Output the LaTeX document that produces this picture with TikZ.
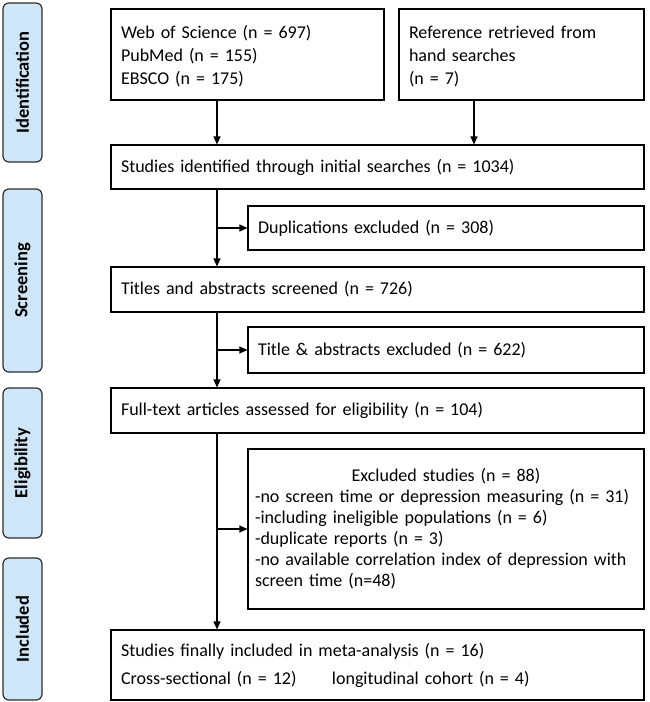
\documentclass[tikz,border=0pt]{standalone}
\usepackage{fontspec}
\setmainfont{Carlito}
\usetikzlibrary{arrows.meta}
\definecolor{phasefill}{RGB}{206,230,248}
\definecolor{phaseline}{RGB}{45,45,45}
\tikzset{
  box/.style={draw,line width=1.1pt,inner xsep=10pt,inner ysep=0pt,align=left,font=\fontsize{18}{23}\selectfont},
  phase/.style={draw=phaseline,fill=phasefill,line width=1.2pt,rounded corners=6pt,rotate=90,
    minimum height=39pt,inner sep=0pt,font=\fontsize{18.5}{20}\selectfont\bfseries},
  arr/.style={line width=1.1pt,-{Triangle[length=8pt,width=7pt]}}
}
\begin{document}
\begin{tikzpicture}[x=1pt,y=-1pt]
\useasboundingbox (0,0) rectangle (650,702);
\node [phase,minimum width=159pt] (ident) at (22.5,82.5) {Identification};
\node [phase,minimum width=183pt] (screen) at (22.5,280.5) {Screening};
\node [phase,minimum width=150pt] (elig) at (22.5,463) {Eligibility};
\node [phase,minimum width=142pt] (incl) at (22.5,629) {Included};
\node [box,minimum width=273pt,minimum height=91pt,text width=253pt] (db) at (247.5,54.5)
  {\rule{0pt}{17pt}Web of Science (n = 697)\\PubMed (n = 155)\\EBSCO (n = 175)};
\node [box,minimum width=245pt,minimum height=91pt,text width=225pt] (hand) at (521.5,54.5)
  {\rule{0pt}{17pt}Reference retrieved from\\hand searches\\(n = 7)};
\node [box,minimum width=533pt,minimum height=44pt,text width=513pt] (ident1) at (377.5,167)
  {Studies identified through initial searches (n = 1034)};
\node [box,minimum width=396pt,minimum height=44pt,text width=376pt] (dupl) at (446,228)
  {Duplications excluded (n = 308)};
\node [box,minimum width=533pt,minimum height=45pt,text width=513pt] (titles) at (377.5,289.5)
  {Titles and abstracts screened (n = 726)};
\node [box,minimum width=396pt,minimum height=46pt,text width=376pt] (titlex) at (446,350)
  {Title \& abstracts excluded (n = 622)};
\node [box,minimum width=533pt,minimum height=45pt,text width=513pt] (full) at (377.5,410.5)
  {Full-text articles assessed for eligibility (n = 104)};
\node [box,minimum width=396pt,minimum height=160pt,inner xsep=7pt,text width=382pt,
  font=\fontsize{18}{21}\selectfont] (excl) at (446,529)
  {\centering Excluded studies (n = 88)\par\raggedright
  -no screen time or depression measuring (n = 31)\\
  -including ineligible populations (n = 6)\\
  -duplicate reports (n = 3)\\
  -no available correlation index of depression with screen time (n=48)};
\node [box,minimum width=533pt,minimum height=70pt,text width=513pt,
  font=\fontsize{18}{28}\selectfont] (final) at (377.5,665)
  {Studies finally included in meta-analysis (n = 16)\\
  \makebox[211pt][l]{Cross-sectional (n = 12)}longitudinal cohort (n = 4)};
\coordinate (spine) at (217,0);
\coordinate (handx) at (474,0);
\draw [arr] (spine |- db.south) -- (spine |- ident1.north);
\draw [arr] (handx |- hand.south) -- (handx |- ident1.north);
\draw [arr] (spine |- ident1.south) -- (spine |- titles.north);
\draw [arr] (spine |- titles.south) -- (spine |- full.north);
\draw [arr] (spine |- full.south) -- (spine |- final.north);
\draw [arr] (spine |- dupl.west) -- (dupl.west);
\draw [arr] (spine |- titlex.west) -- (titlex.west);
\draw [arr] (spine |- excl.west) -- (excl.west);
\end{tikzpicture}
\end{document}
